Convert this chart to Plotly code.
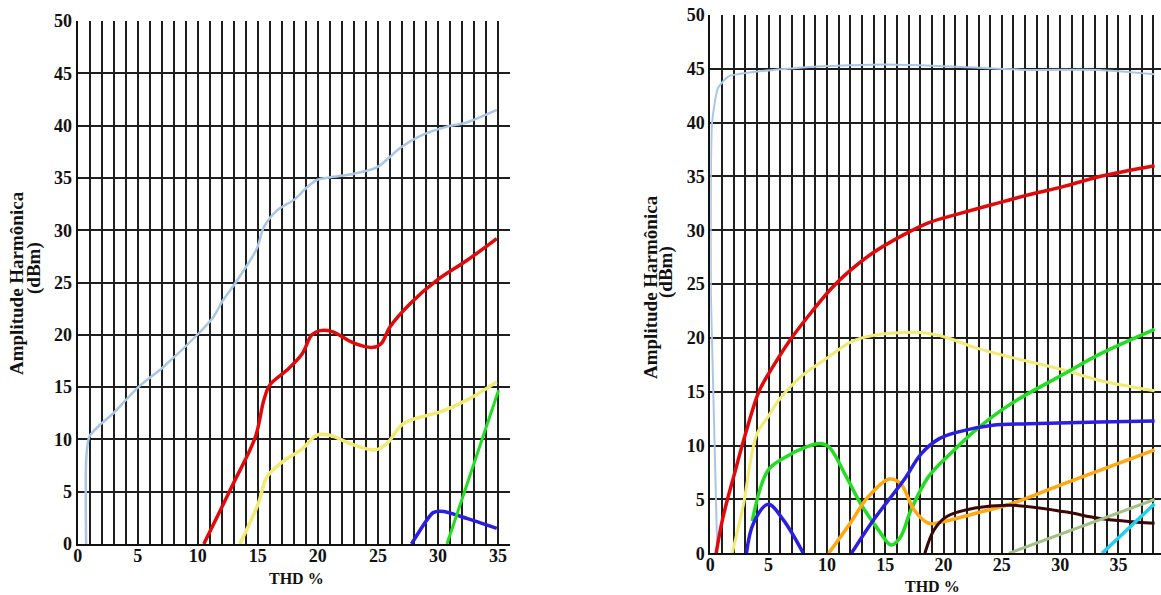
import plotly.graph_objects as go

W, H = 1161, 595

# ---------------- Left chart data ----------------
L_lightblue_x = [0.7, 0.72, 0.97, 1.86, 2.97, 5.05, 7.1, 10.05, 11.3, 12.1, 13.1, 14.9, 15.5, 16.6, 18.0, 19.1, 19.9, 21.3, 23.0, 24.9, 26.9, 28.5, 30.75, 32.4, 34.9]
L_lightblue_y = [0.0, 8.3, 10.25, 11.4, 12.5, 15.0, 16.9, 20.1, 21.7, 23.3, 24.9, 28.2, 30.3, 31.9, 32.9, 34.1, 34.8, 35.1, 35.4, 36.0, 37.9, 39.0, 39.9, 40.3, 41.5]

L_red_x = [10.5, 12.97, 14.8, 15.5, 16.0, 17.4, 18.7, 19.5, 20.2, 21.2, 23.0, 24.6, 25.3, 26.0, 27.7, 29.9, 32.4, 34.9]
L_red_y = [0.0, 5.8, 10.25, 13.75, 15.2, 16.6, 18.2, 20.0, 20.4, 20.3, 19.2, 18.8, 19.2, 20.75, 23.0, 25.2, 27.1, 29.2]

L_yellow_x = [13.5, 15.05, 15.75, 17.1, 18.7, 19.9, 21.0, 22.7, 24.8, 25.75, 27.1, 29.1, 30.2, 32.4, 34.9]
L_yellow_y = [0.0, 3.9, 6.4, 7.9, 9.1, 10.4, 10.4, 9.6, 9.0, 9.6, 11.5, 12.3, 12.64, 13.75, 15.5]

L_blue_x = [27.8, 29.6, 30.5, 32.4, 34.9]
L_blue_y = [0.0, 3.0, 3.1, 2.45, 1.5]

L_green_x = [30.75, 35.05]
L_green_y = [0.0, 14.7]

# ---------------- Right chart data ----------------
R_lightblue_x = [0.6, 0.05, 0.05, 0.15, 0.65, 1.57, 4.0, 8.9, 15.0, 21.2, 27.3, 33.4, 38.1]
R_lightblue_y = [0.0, 24.0, 35.0, 40.0, 43.2, 44.3, 44.75, 45.2, 45.4, 45.2, 44.9, 44.9, 44.5]

R_red_x = [0.5, 1.1, 2.0, 3.1, 4.2, 5.24, 6.8, 8.6, 10.3, 11.4, 13.8, 16.6, 18.7, 21.2, 24.2, 27.3, 30.4, 33.4, 38.1]
R_red_y = [0.0, 3.4, 7.1, 11.4, 15.1, 17.1, 19.75, 22.3, 24.5, 25.7, 27.8, 29.6, 30.7, 31.5, 32.4, 33.3, 34.1, 35.0, 36.0]

R_yellow_x = [1.87, 2.8, 4.0, 4.94, 5.86, 7.7, 10.1, 12.0, 13.8, 16.6, 18.1, 20.25, 22.7, 25.8, 30.4, 33.4, 38.1]
R_yellow_y = [0.0, 4.3, 11.1, 12.65, 14.2, 16.35, 18.2, 19.6, 20.2, 20.5, 20.5, 20.05, 19.1, 18.2, 17.0, 16.05, 15.1]

R_green_x = [3.6, 4.94, 6.47, 8.3, 9.37, 10.15, 11.67, 12.9, 14.4, 15.5, 16.3, 17.2, 18.7, 20.6, 22.7, 25.8, 30.4, 33.4, 38.1]
R_green_y = [3.0, 7.7, 8.95, 9.9, 10.2, 9.9, 7.1, 4.6, 2.2, 0.77, 1.5, 4.0, 7.1, 9.26, 11.4, 13.9, 16.7, 18.5, 20.8]

R_blue_x = [3.1, 3.7, 4.97, 6.26, 7.98, None, 12.1, 13.8, 15.04, 16.6, 18.1, 19.64, 21.2, 24.2, 27.3, 33.4, 38.1]
R_blue_y = [0.0, 2.8, 4.56, 3.1, 0.0, None, 0.0, 2.8, 4.6, 6.8, 9.26, 10.65, 11.26, 11.9, 12.03, 12.2, 12.3]

R_orange_x = [10.15, 12.0, 13.5, 15.35, 16.3, 17.5, 18.7, 19.95, 22.7, 25.8, 30.4, 33.4, 38.1]
R_orange_y = [0.0, 2.8, 5.2, 6.9, 6.5, 4.0, 2.8, 2.93, 3.7, 4.6, 6.5, 7.7, 9.6]

R_maroon_x = [18.4, 19.2, 20.25, 22.7, 25.8, 30.4, 33.4, 38.1]
R_maroon_y = [0.0, 2.2, 3.4, 4.2, 4.47, 3.85, 3.24, 2.78]

R_olive_x = [25.6, 38.1]
R_olive_y = [0.0, 5.0]

R_cyan_x = [33.6, 38.1]
R_cyan_y = [0.0, 4.6]

# ---------------- Axis ticks / labels ----------------
x_ticks = [0, 5, 10, 15, 20, 25, 30, 35]
y_ticks = [0, 5, 10, 15, 20, 25, 30, 35, 40, 45, 50]
x_title = "THD %"
y_title_1 = "Amplitude Harmônica"
y_title_2 = "(dBm)"

FONT = "Liberation Serif, Times New Roman, serif"
GRID = "#1e1e1e"

fig = go.Figure()

def add(x, y, color, width, axis, smoothing=1.0):
    xa, ya = ("x", "y") if axis == 1 else ("x2", "y2")
    fig.add_trace(go.Scatter(x=x, y=y, mode="lines", xaxis=xa, yaxis=ya,
                             line=dict(color=color, width=width, shape="spline", smoothing=smoothing),
                             showlegend=False, hoverinfo="skip"))

# left
add(L_lightblue_x, L_lightblue_y, "#a9c6e6", 2.5, 1, 0.8)
add(L_red_x, L_red_y, "#e00a0a", 3.5, 1)
add(L_yellow_x, L_yellow_y, "#f2ea72", 3.5, 1)
add(L_blue_x, L_blue_y, "#2b1ee0", 3.5, 1, 0.6)
add(L_green_x, L_green_y, "#22dd22", 3, 1)

# right
add(R_lightblue_x, R_lightblue_y, "#a9c6e6", 2, 2, 0.5)
add(R_red_x, R_red_y, "#e00a0a", 3.5, 2)
add(R_yellow_x, R_yellow_y, "#f2ea72", 3, 2)
add(R_green_x, R_green_y, "#22dd22", 3.5, 2)
add(R_orange_x, R_orange_y, "#ffa812", 3.5, 2)
add(R_blue_x, R_blue_y, "#2b1ee0", 3.5, 2)
add(R_maroon_x, R_maroon_y, "#3a0606", 3, 2)
add(R_olive_x, R_olive_y, "#a3c184", 3, 2)
add(R_cyan_x, R_cyan_y, "#22cfef", 3.5, 2)

def xaxis(domain, rng):
    return dict(domain=domain, range=rng, tickvals=x_ticks, ticktext=["<b>%d</b>" % v for v in x_ticks],
                showgrid=True, gridcolor=GRID, gridwidth=2,
                minor=dict(dtick=1, tick0=0, showgrid=True, gridcolor=GRID, gridwidth=2),
                zeroline=False, showline=True, linecolor="#111", linewidth=2,
                ticks="", ticklabelstandoff=-6, tickfont=dict(family=FONT, size=18, color="#111"),
                fixedrange=True, automargin=False)

def yaxis(domain):
    return dict(domain=domain, range=[0, 50], tickvals=y_ticks, ticktext=["<b>%d</b>" % v for v in y_ticks],
                showgrid=True, gridcolor=GRID, gridwidth=2,
                zeroline=False, showline=True, linecolor="#111", linewidth=2,
                ticks="", tickfont=dict(family=FONT, size=18, color="#111"),
                fixedrange=True, automargin=False)

fig.update_layout(
    width=W, height=H, margin=dict(l=0, r=0, t=0, b=0),
    paper_bgcolor="white", plot_bgcolor="white",
    xaxis=xaxis([77.7 / W, 510 / W], [0, 36]),
    yaxis=yaxis([(H - 544) / H, (H - 21) / H]),
    xaxis2=dict(xaxis([710.3 / W, 1.0], [0, 38.65]), anchor="y2"),
    yaxis2=dict(yaxis([(H - 553.3) / H, (H - 15) / H]), anchor="x2"),
)
fig.update_layout(xaxis_anchor="y", yaxis_anchor="x")

def ann(text, x, y, angle=0, size=17):
    fig.add_annotation(text="<b>%s</b>" % text, x=x / W, y=1 - y / H, xref="paper", yref="paper",
                       showarrow=False, textangle=angle, xanchor="center", yanchor="middle",
                       font=dict(family=FONT, size=size, color="#111"))

ann(x_title, 296, 578, size=16)
ann(x_title, 932, 586, size=16)
ann(y_title_1, 16, 283, -90, size=19)
ann(y_title_2, 34, 268, -90, size=19)
ann(y_title_1, 650, 287, -90, size=19)
ann(y_title_2, 666, 272, -90, size=19)

fig.write_html("out.html")
